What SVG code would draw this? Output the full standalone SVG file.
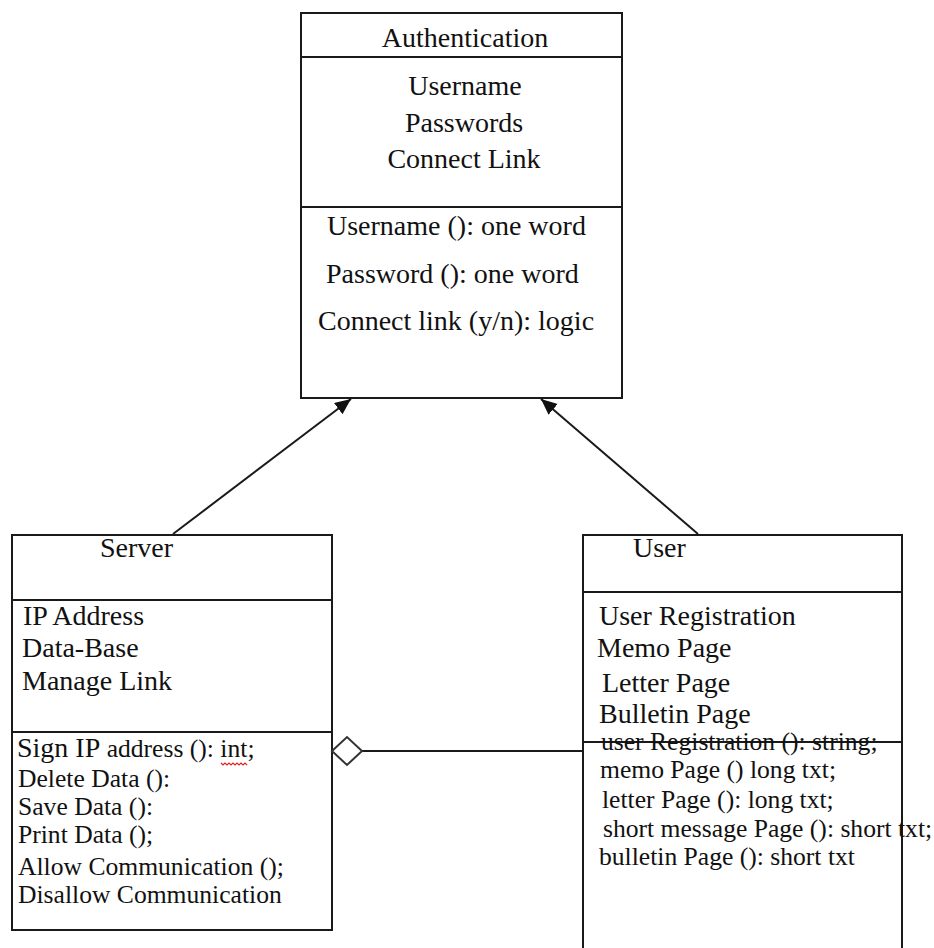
<svg xmlns="http://www.w3.org/2000/svg" width="934" height="948" viewBox="0 0 934 948">
<style>
.box{fill:#fff;stroke:#1a1a1a;stroke-width:2}
.div{stroke:#1a1a1a;stroke-width:2}
.t{font-family:"Liberation Serif","Times New Roman",serif;font-size:28px;fill:#111}
.s{font-family:"Liberation Serif","Times New Roman",serif;font-size:25.6px;fill:#111}
.c{text-anchor:middle}
.conn{stroke:#1a1a1a;stroke-width:2;fill:none}
</style>
<defs>
<marker id="arr" markerUnits="userSpaceOnUse" markerWidth="18" markerHeight="16" refX="16" refY="7" orient="auto">
<path d="M0,0 L16,7 L0,14 Z" fill="#111"/>
</marker>
</defs>
<rect width="934" height="948" fill="#fff"/>
<g id="authentication">
<rect class="box" x="301" y="13" width="321" height="385"/>
<line class="div" x1="301" y1="57" x2="622" y2="57"/>
<line class="div" x1="301" y1="207" x2="622" y2="207"/>
<text class="t c" x="465" y="47">Authentication</text>
<text class="t c" x="465" y="95">Username</text>
<text class="t c" x="464" y="132">Passwords</text>
<text class="t c" x="464" y="168">Connect Link</text>
<text class="t" x="327" y="235">Username (): one word</text>
<text class="t" x="326" y="283">Password (): one word</text>
<text class="t" x="318" y="330">Connect link (y/n): logic</text>
</g>
<g id="server">
<rect class="box" x="12" y="535" width="320" height="395"/>
<line class="div" x1="12" y1="600" x2="332" y2="600"/>
<line class="div" x1="12" y1="732" x2="332" y2="732"/>
<text class="t" x="100" y="557">Server</text>
<text class="t" x="23" y="625">IP Address</text>
<text class="t" x="22" y="657">Data-Base</text>
<text class="t" x="22" y="690">Manage Link</text>
<text class="s" x="17" y="757"><tspan style="font-size:28px">Sign IP</tspan> address (): int;</text>
<path d="M221,763 l2,2 l2,-2 l2,2 l2,-2 l2,2 l2,-2 l2,2 l2,-2 l2,2 l2,-2 l2,2 l2,-2 l2,2" fill="none" stroke="#e02020" stroke-width="1.2"/>
<text class="s" x="18" y="787">Delete Data ():</text>
<text class="s" x="18" y="815">Save Data ():</text>
<text class="s" x="18" y="843">Print Data ();</text>
<text class="s" x="18" y="875">Allow Communication ();</text>
<text class="s" x="18" y="903">Disallow Communication</text>
</g>
<g id="user">
<rect class="box" x="583" y="535" width="319" height="420"/>
<line class="div" x1="583" y1="592" x2="902" y2="592"/>
<line class="div" x1="583" y1="742" x2="902" y2="742"/>
<text class="t" x="633" y="557">User</text>
<text class="t" x="599" y="625">User Registration</text>
<text class="t" x="597" y="657">Memo Page</text>
<text class="t" x="602" y="692">Letter Page</text>
<text class="t" x="599" y="723">Bulletin Page</text>
<text class="s" x="601" y="750">user Registration (): string;</text>
<text class="s" x="600" y="778">memo Page () long txt;</text>
<text class="s" x="602" y="808">letter Page (): long txt;</text>
<text class="s" x="603" y="837">short message Page (): short txt;</text>
<text class="s" x="599" y="865">bulletin Page (): short txt</text>
</g>
<g id="connectors">
<line class="conn" x1="173" y1="534" x2="351" y2="399" marker-end="url(#arr)"/>
<line class="conn" x1="698" y1="534" x2="541" y2="399" marker-end="url(#arr)"/>
<line class="conn" x1="362" y1="751" x2="583" y2="751"/>
<path d="M332,751 L347,737 L362,751 L347,765 Z" fill="#fff" stroke="#333" stroke-width="2"/>
</g>
</svg>
